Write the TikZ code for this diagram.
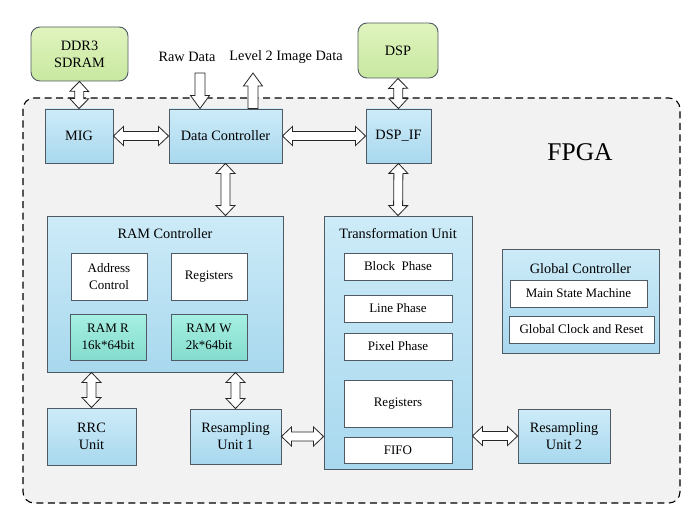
\documentclass[tikz,border=0pt]{standalone}
\usepackage{fontspec}
\setmainfont{Liberation Serif}
\usepackage{tikz}
\usetikzlibrary{calc}
\usetikzlibrary{positioning}

\definecolor{boxline}{HTML}{505A64}
\definecolor{bluetop}{HTML}{CDEBF8}
\definecolor{bluebot}{HTML}{A8D8EE}
\definecolor{greentop}{HTML}{E0F4BE}
\definecolor{greenbot}{HTML}{C8E8A0}
\definecolor{tealtop}{HTML}{A6F0E2}
\definecolor{tealbot}{HTML}{84DCCE}
\definecolor{fpgafill}{HTML}{F2F2F2}

% hollow block arrows between two points
\newcommand{\fatboth}[2]{%
  \draw[fatarrow] (#1) -- ($(#1)!10pt!(#2)!9.5pt!90:(#2)$)
    -- ($(#1)!10pt!(#2)!4.5pt!90:(#2)$)
    -- ($(#2)!10pt!(#1)!4.5pt!-90:(#1)$)
    -- ($(#2)!10pt!(#1)!9.5pt!-90:(#1)$)
    -- (#2)
    -- ($(#2)!10pt!(#1)!9.5pt!90:(#1)$)
    -- ($(#2)!10pt!(#1)!4.5pt!90:(#1)$)
    -- ($(#1)!10pt!(#2)!4.5pt!-90:(#2)$)
    -- ($(#1)!10pt!(#2)!9.5pt!-90:(#2)$) -- cycle;}
\newcommand{\fatone}[2]{%
  \draw[fatarrow] ($(#1)!5pt!90:(#2)$)
    -- ($(#2)!13pt!(#1)!5pt!-90:(#1)$)
    -- ($(#2)!13pt!(#1)!9.5pt!-90:(#1)$)
    -- (#2)
    -- ($(#2)!13pt!(#1)!9.5pt!90:(#1)$)
    -- ($(#2)!13pt!(#1)!5pt!90:(#1)$)
    -- ($(#1)!5pt!-90:(#2)$) -- cycle;}

\begin{document}
\begin{tikzpicture}[x=1pt,y=-1pt,
    txt/.style={font=\fontsize{14.3}{17}\selectfont,align=center},
    smalltxt/.style={font=\fontsize{13}{16.5}\selectfont,align=center},
    bluebox/.style={txt,draw=boxline,line width=0.9pt,top color=bluetop,bottom color=bluebot,inner sep=2pt},
    greenbox/.style={txt,draw=boxline,line width=0.9pt,rounded corners=9pt,top color=greentop,bottom color=greenbot},
    whitebox/.style={smalltxt,draw=boxline,line width=0.8pt,fill=white,minimum width=108,minimum height=27,inner sep=1pt},
    tealbox/.style={smalltxt,draw=boxline,line width=0.8pt,top color=tealtop,bottom color=tealbot,minimum width=76,minimum height=46,inner sep=1pt},
    fatarrow/.style={draw=black!85,line width=0.8pt,fill=white,line join=miter}]
        \useasboundingbox (0,0) rectangle (698,516);

        \draw[fill=fpgafill,dashed,dash pattern=on 7pt off 4.5pt,line width=1.1pt,rounded corners=11pt]
        (23,98) rectangle (680,503);
        \node[font=\fontsize{25.5}{28}\selectfont] (fpga) at (580,152) {FPGA};

        \node[greenbox,minimum width=97,minimum height=54] (ddr) at (79.5,54) {DDR3\\SDRAM};
        \node[greenbox,minimum width=80,minimum height=55] (dsp) at (398,50.5) {DSP};

        \node[txt] (raw) at (187,57) {Raw Data};
        \node[txt] (lvl) at (286,57) {Level 2 Image Data};

        \node[bluebox,minimum width=68,minimum height=54] (mig) at (79,136) {MIG};
        \node[bluebox,minimum width=113,minimum height=54] (dc) at (225.5,136) {Data Controller};
        \node[bluebox,minimum width=65,minimum height=54] (dspif) at (398.5,136) {DSP\_IF};

        % RAM controller
        \node[bluebox,minimum width=236,minimum height=156] (ram) at (165,294) {};
        \node[txt] (ramtitle) at (165,234) {RAM Controller};
        \node[whitebox,minimum width=76,minimum height=47] (addr) at (109,276.5) {Address\\Control};
        \node[whitebox,minimum width=76,minimum height=47] (ramregs) at (209,276.5) {Registers};
        \node[tealbox] (ramr) at (108,337) {RAM R\\16k*64bit};
        \node[tealbox] (ramw) at (209,337) {RAM W\\2k*64bit};

        \node[bluebox,minimum width=89,minimum height=57] (rrc) at (91.5,436.5) {RRC\\Unit};
        \node[bluebox,minimum width=91,minimum height=55] (res1) at (235.5,436.5) {Resampling\\Unit 1};

        % transformation unit
        \node[bluebox,minimum width=148,minimum height=253] (trans) at (398,342.5) {};
        \node[txt] (transtitle) at (398,234) {Transformation Unit};
        \node[whitebox] (block) at (398,266.5) {Block\ \ Phase};
        \node[whitebox] (line) at (398,308.5) {Line Phase};
        \node[whitebox] (pixel) at (398,346.5) {Pixel Phase};
        \node[whitebox,minimum height=47] (tregs) at (398,403.5) {Registers};
        \node[whitebox,minimum height=26] (fifo) at (398,450) {FIFO};

        % global controller
        \node[bluebox,minimum width=157,minimum height=104] (glob) at (580.5,301) {};
        \node[txt] (globtitle) at (580.5,269) {Global Controller};
        \node[whitebox,minimum width=137] (msm) at (578.5,293.5) {Main State Machine};
        \node[whitebox,minimum width=145] (gcr) at (581.5,329.5) {Global Clock and Reset};

        \node[bluebox,minimum width=92,minimum height=54] (res2) at (564,436) {Resampling\\Unit 2};

        \coordinate (rawin) at (200,73);
        \coordinate (rawend) at (rawin |- dc.north);
        \coordinate (lvlout) at (253,73);
        \coordinate (lvlbeg) at (lvlout |- dc.north);
        \coordinate (ramtop) at (dc.south |- ram.north);
        \coordinate (rrcup) at (rrc.north |- ram.south);
        \coordinate (res1up) at (res1.north |- ram.south);
        \coordinate (transl) at (res1.east -| trans.west);
        \coordinate (transr) at (res2.west -| trans.east);

        \fatone{rawin}{rawend}
        \fatone{lvlbeg}{lvlout}
        \fatboth{ddr.south}{mig.north}
        \fatboth{dsp.south}{dspif.north}
        \fatboth{mig.east}{dc.west}
        \fatboth{dc.east}{dspif.west}
        \fatboth{dc.south}{ramtop}
        \fatboth{dspif.south}{trans.north}
        \fatboth{rrcup}{rrc.north}
        \fatboth{res1up}{res1.north}
        \fatboth{res1.east}{transl}
        \fatboth{transr}{res2.west}
    \end{tikzpicture}
\end{document}
